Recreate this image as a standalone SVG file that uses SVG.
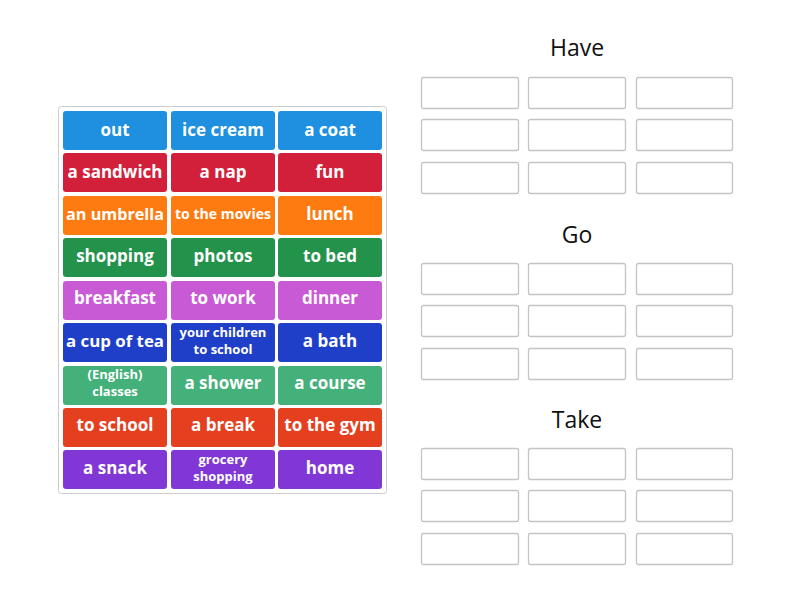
<svg xmlns="http://www.w3.org/2000/svg" width="800" height="600" viewBox="0 0 800 600">
<style>
.t{font-family:"Open Sans",sans-serif;font-weight:bold;fill:#fff;text-anchor:middle;font-size:17px}
.s{font-size:13px}
.h{font-family:"Open Sans",sans-serif;font-size:23px;fill:#111;text-anchor:middle}
.slot{fill:#fff;stroke:#c4c4c4;stroke-width:1.3}
.b{fill:#1e90df}.r{fill:#d3203a}.o{fill:#fd7b10}.g{fill:#23934b}.p{fill:#c95ad6}.d{fill:#1f3fc8}.e{fill:#44b07a}.x{fill:#e4401f}.v{fill:#8136d6}
</style>
<rect x="58.5" y="106.5" width="328" height="387" rx="3" fill="#fff" stroke="#ccc"/>
<g id="tiles">
<g id="n1"><rect class="b" x="63" y="111" width="104" height="39" rx="3"/><text class="t" x="115" y="136">out</text></g>
<g id="n2"><rect class="b" x="171" y="111" width="104" height="39" rx="3"/><text class="t" x="223" y="136">ice cream</text></g>
<g id="n3"><rect class="b" x="278" y="111" width="104" height="39" rx="3"/><text class="t" x="330" y="136">a coat</text></g>
<g id="n4"><rect class="r" x="63" y="153" width="104" height="39" rx="3"/><text class="t" x="115" y="178">a sandwich</text></g>
<g id="n5"><rect class="r" x="171" y="153" width="104" height="39" rx="3"/><text class="t" x="223" y="178">a nap</text></g>
<g id="n6"><rect class="r" x="278" y="153" width="104" height="39" rx="3"/><text class="t" x="330" y="178">fun</text></g>
<g id="n7"><rect class="o" x="63" y="196" width="104" height="39" rx="3"/><text class="t" x="115" y="220" style="font-size:16px" textLength="98" lengthAdjust="spacingAndGlyphs">an umbrella</text></g>
<g id="n8"><rect class="o" x="171" y="196" width="104" height="39" rx="3"/><text class="t" x="223" y="219" style="font-size:13.5px" textLength="96" lengthAdjust="spacingAndGlyphs">to the movies</text></g>
<g id="n9"><rect class="o" x="278" y="196" width="104" height="39" rx="3"/><text class="t" x="330" y="220">lunch</text></g>
<g id="n10"><rect class="g" x="63" y="238" width="104" height="39" rx="3"/><text class="t" x="115" y="262">shopping</text></g>
<g id="n11"><rect class="g" x="171" y="238" width="104" height="39" rx="3"/><text class="t" x="223" y="262">photos</text></g>
<g id="n12"><rect class="g" x="278" y="238" width="104" height="39" rx="3"/><text class="t" x="330" y="262">to bed</text></g>
<g id="n13"><rect class="p" x="63" y="281" width="104" height="39" rx="3"/><text class="t" x="115" y="304">breakfast</text></g>
<g id="n14"><rect class="p" x="171" y="281" width="104" height="39" rx="3"/><text class="t" x="223" y="304">to work</text></g>
<g id="n15"><rect class="p" x="278" y="281" width="104" height="39" rx="3"/><text class="t" x="330" y="304">dinner</text></g>
<g id="n16"><rect class="d" x="63" y="323" width="104" height="39" rx="3"/><text class="t" x="115" y="347" style="font-size:16px" textLength="98" lengthAdjust="spacingAndGlyphs">a cup of tea</text></g>
<g id="n17"><rect class="d" x="171" y="323" width="104" height="39" rx="3"/><text class="t s" x="223" y="337">your children</text><text class="t s" x="223" y="354">to school</text></g>
<g id="n18"><rect class="d" x="278" y="323" width="104" height="39" rx="3"/><text class="t" x="330" y="347">a bath</text></g>
<g id="n19"><rect class="e" x="63" y="366" width="104" height="39" rx="3"/><text class="t s" x="115" y="379">(English)</text><text class="t s" x="115" y="396">classes</text></g>
<g id="n20"><rect class="e" x="171" y="366" width="104" height="39" rx="3"/><text class="t" x="223" y="389">a shower</text></g>
<g id="n21"><rect class="e" x="278" y="366" width="104" height="39" rx="3"/><text class="t" x="330" y="389">a course</text></g>
<g id="n22"><rect class="x" x="63" y="408" width="104" height="39" rx="3"/><text class="t" x="115" y="431">to school</text></g>
<g id="n23"><rect class="x" x="171" y="408" width="104" height="39" rx="3"/><text class="t" x="223" y="431">a break</text></g>
<g id="n24"><rect class="x" x="278" y="408" width="104" height="39" rx="3"/><text class="t" x="330" y="431">to the gym</text></g>
<g id="n25"><rect class="v" x="63" y="450" width="104" height="39" rx="3"/><text class="t" x="115" y="474">a snack</text></g>
<g id="n26"><rect class="v" x="171" y="450" width="104" height="39" rx="3"/><text class="t s" x="223" y="464">grocery</text><text class="t s" x="223" y="481">shopping</text></g>
<g id="n27"><rect class="v" x="278" y="450" width="104" height="39" rx="3"/><text class="t" x="330" y="474">home</text></g>
</g>
<g id="have">
<text class="h" x="577" y="56">Have</text>
<rect class="slot" x="421.5" y="77.5" width="97" height="31" rx="2"/><rect class="slot" x="528.5" y="77.5" width="97" height="31" rx="2"/><rect class="slot" x="636.5" y="77.5" width="96" height="31" rx="2"/>
<rect class="slot" x="421.5" y="119.5" width="97" height="31" rx="2"/><rect class="slot" x="528.5" y="119.5" width="97" height="31" rx="2"/><rect class="slot" x="636.5" y="119.5" width="96" height="31" rx="2"/>
<rect class="slot" x="421.5" y="162.5" width="97" height="31" rx="2"/><rect class="slot" x="528.5" y="162.5" width="97" height="31" rx="2"/><rect class="slot" x="636.5" y="162.5" width="96" height="31" rx="2"/>
</g>
<g id="go">
<text class="h" x="577" y="243">Go</text>
<rect class="slot" x="421.5" y="263.5" width="97" height="31" rx="2"/><rect class="slot" x="528.5" y="263.5" width="97" height="31" rx="2"/><rect class="slot" x="636.5" y="263.5" width="96" height="31" rx="2"/>
<rect class="slot" x="421.5" y="305.5" width="97" height="31" rx="2"/><rect class="slot" x="528.5" y="305.5" width="97" height="31" rx="2"/><rect class="slot" x="636.5" y="305.5" width="96" height="31" rx="2"/>
<rect class="slot" x="421.5" y="348.5" width="97" height="31" rx="2"/><rect class="slot" x="528.5" y="348.5" width="97" height="31" rx="2"/><rect class="slot" x="636.5" y="348.5" width="96" height="31" rx="2"/>
</g>
<g id="take">
<text class="h" x="577" y="428">Take</text>
<rect class="slot" x="421.5" y="448.5" width="97" height="31" rx="2"/><rect class="slot" x="528.5" y="448.5" width="97" height="31" rx="2"/><rect class="slot" x="636.5" y="448.5" width="96" height="31" rx="2"/>
<rect class="slot" x="421.5" y="490.5" width="97" height="31" rx="2"/><rect class="slot" x="528.5" y="490.5" width="97" height="31" rx="2"/><rect class="slot" x="636.5" y="490.5" width="96" height="31" rx="2"/>
<rect class="slot" x="421.5" y="533.5" width="97" height="31" rx="2"/><rect class="slot" x="528.5" y="533.5" width="97" height="31" rx="2"/><rect class="slot" x="636.5" y="533.5" width="96" height="31" rx="2"/>
</g>
</svg>
